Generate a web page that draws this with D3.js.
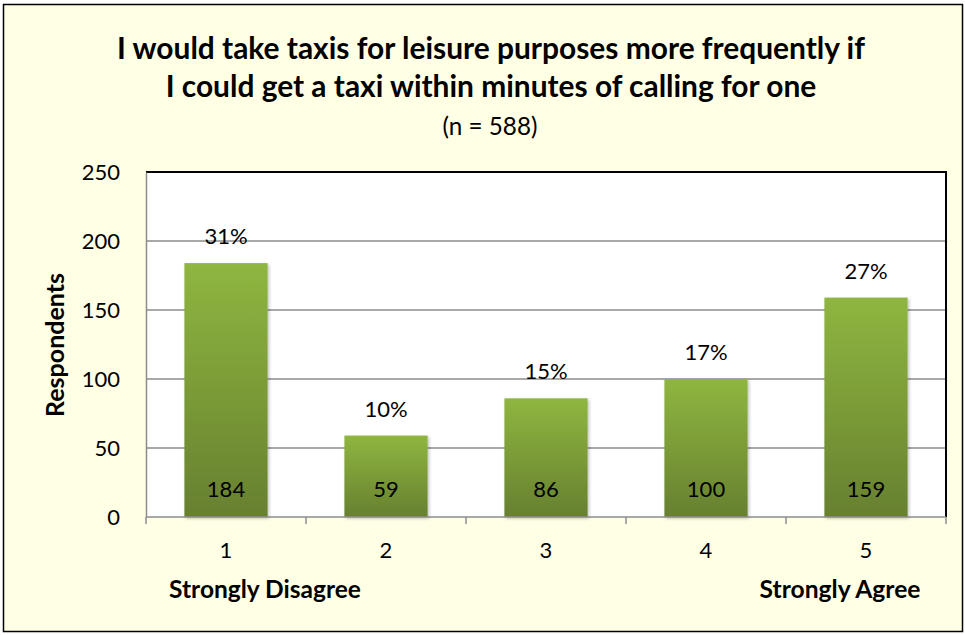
<!DOCTYPE html>
<html><head><meta charset="utf-8">
<script src="https://cdn.jsdelivr.net/npm/d3@7"></script>
<style>body{margin:0;background:#fff}svg{display:block}</style>
</head><body>
<script>
const categories = ["1","2","3","4","5"];
const values = [184, 59, 86, 100, 159];
const percents = ["31%","10%","15%","17%","27%"];
const yTicks = [0, 50, 100, 150, 200, 250];
const titleLines = ["I would take taxis for leisure purposes more frequently if", "I could get a taxi within minutes of calling for one"];
const subtitle = "(n = 588)";
const endLabels = ["Strongly Disagree", "Strongly Agree"];

const W = 965, H = 635;
const F = "Lato, 'Open Sans', sans-serif";
const svg = d3.select("body").append("svg").attr("width", W).attr("height", H);

function fit(el, w) {
  const fs = +el.attr("font-size");
  const len = el.node().getComputedTextLength();
  el.attr("font-size", fs * w / len);
  return el;
}

const defs = svg.append("defs");
const g1 = defs.append("linearGradient").attr("id","barg").attr("x1",0).attr("y1",0).attr("x2",0).attr("y2",1);
g1.append("stop").attr("offset","0%").attr("stop-color","#8fb640");
g1.append("stop").attr("offset","100%").attr("stop-color","#67802f");
const flt = defs.append("filter").attr("id","sh").attr("x","-20%").attr("y","-20%").attr("width","140%").attr("height","140%");
flt.append("feDropShadow").attr("dx",1.5).attr("dy",1.5).attr("stdDeviation",1.5).attr("flood-color","#000").attr("flood-opacity",0.25);

svg.append("rect").attr("x",3.5).attr("y",4.5).attr("width",959).attr("height",627)
  .attr("fill","#ffffe6").attr("stroke","#000").attr("stroke-width",1.5);

const L = 146, R = 946, T = 172, B = 517;
const x = d3.scaleBand().domain(categories).range([L, R]).paddingInner(0.48).paddingOuter(0.24);
const y = d3.scaleLinear().domain([0, 250]).range([B, T]);

svg.append("rect").attr("x",L).attr("y",T).attr("width",R-L).attr("height",B-T).attr("fill","#fff");

// gridlines
svg.append("g").selectAll("line").data(yTicks.filter(d=>d>0 && d<250)).join("line")
  .attr("x1",L).attr("x2",R).attr("y1",d=>y(d)).attr("y2",d=>y(d))
  .attr("stroke","#8c8c8c").attr("stroke-width",1.3);

// plot border top/right
svg.append("path").attr("d",`M${L},${T}H${R}V${B}`).attr("fill","none").attr("stroke","#000").attr("stroke-width",2);

// bars
svg.append("g").selectAll("rect").data(values).join("rect")
  .attr("x",(d,i)=>x(categories[i])).attr("width",x.bandwidth())
  .attr("y",d=>y(d)).attr("height",d=>B-y(d))
  .attr("fill","url(#barg)").attr("filter","url(#sh)");

// axes
const yAxis = d3.axisLeft(y).tickValues(yTicks).tickSize(0).tickPadding(26);
const ya = svg.append("g").attr("transform",`translate(${L},0)`).call(yAxis);
ya.select(".domain").attr("stroke","#8c8c8c").attr("stroke-width",1.5);
ya.selectAll("text").attr("font-family",F).attr("font-size",22).attr("fill","#000");

const xb = d3.scaleLinear().domain([0,5]).range([L,R]);
svg.append("line").attr("x1",L).attr("x2",R).attr("y1",B).attr("y2",B).attr("stroke","#8c8c8c").attr("stroke-width",1.5);
svg.append("g").selectAll("line").data(d3.range(6)).join("line")
  .attr("x1",d=>xb(d)).attr("x2",d=>xb(d)).attr("y1",B).attr("y2",B+7)
  .attr("stroke","#8c8c8c").attr("stroke-width",1.5);
svg.append("g").selectAll("text").data(categories).join("text")
  .attr("x",d=>x(d)+x.bandwidth()/2).attr("y",558).attr("text-anchor","middle")
  .attr("font-family",F).attr("font-size",22).text(d=>d);

// end labels
fit(svg.append("text").attr("x",265).attr("y",598).attr("text-anchor","middle")
  .attr("font-family",F).attr("font-weight","bold").attr("font-size",22).text(endLabels[0]), 192);
fit(svg.append("text").attr("x",840).attr("y",598).attr("text-anchor","middle")
  .attr("font-family",F).attr("font-weight","bold").attr("font-size",22).text(endLabels[1]), 161);

// data labels
svg.append("g").selectAll("text").data(values).join("text")
  .attr("x",(d,i)=>x(categories[i])+x.bandwidth()/2).attr("y",y(0)-20).attr("text-anchor","middle")
  .attr("font-family",F).attr("font-size",22).text(d=>d);
svg.append("g").selectAll("text").data(percents).join("text")
  .attr("x",(d,i)=>x(categories[i])+x.bandwidth()/2).attr("y",(d,i)=>y(values[i])-19).attr("text-anchor","middle")
  .attr("font-family",F).attr("font-size",22).text(d=>d);

// y title
fit(svg.append("text").attr("transform","translate(64,345) rotate(-90)").attr("text-anchor","middle")
  .attr("font-family",F).attr("font-weight","bold").attr("font-size",22).text("Respondents"), 144);

// titles
[[titleLines[0],59,748],[titleLines[1],97,651]].forEach(([t,yy,w])=>{
  fit(svg.append("text").attr("x",491).attr("y",yy).attr("text-anchor","middle")
    .attr("font-family",F).attr("font-weight","bold").attr("font-size",25).text(t), w);
});
fit(svg.append("text").attr("x",490).attr("y",135).attr("text-anchor","middle")
  .attr("font-family",F).attr("font-size",20).text(subtitle), 95);
</script>
</body></html>
